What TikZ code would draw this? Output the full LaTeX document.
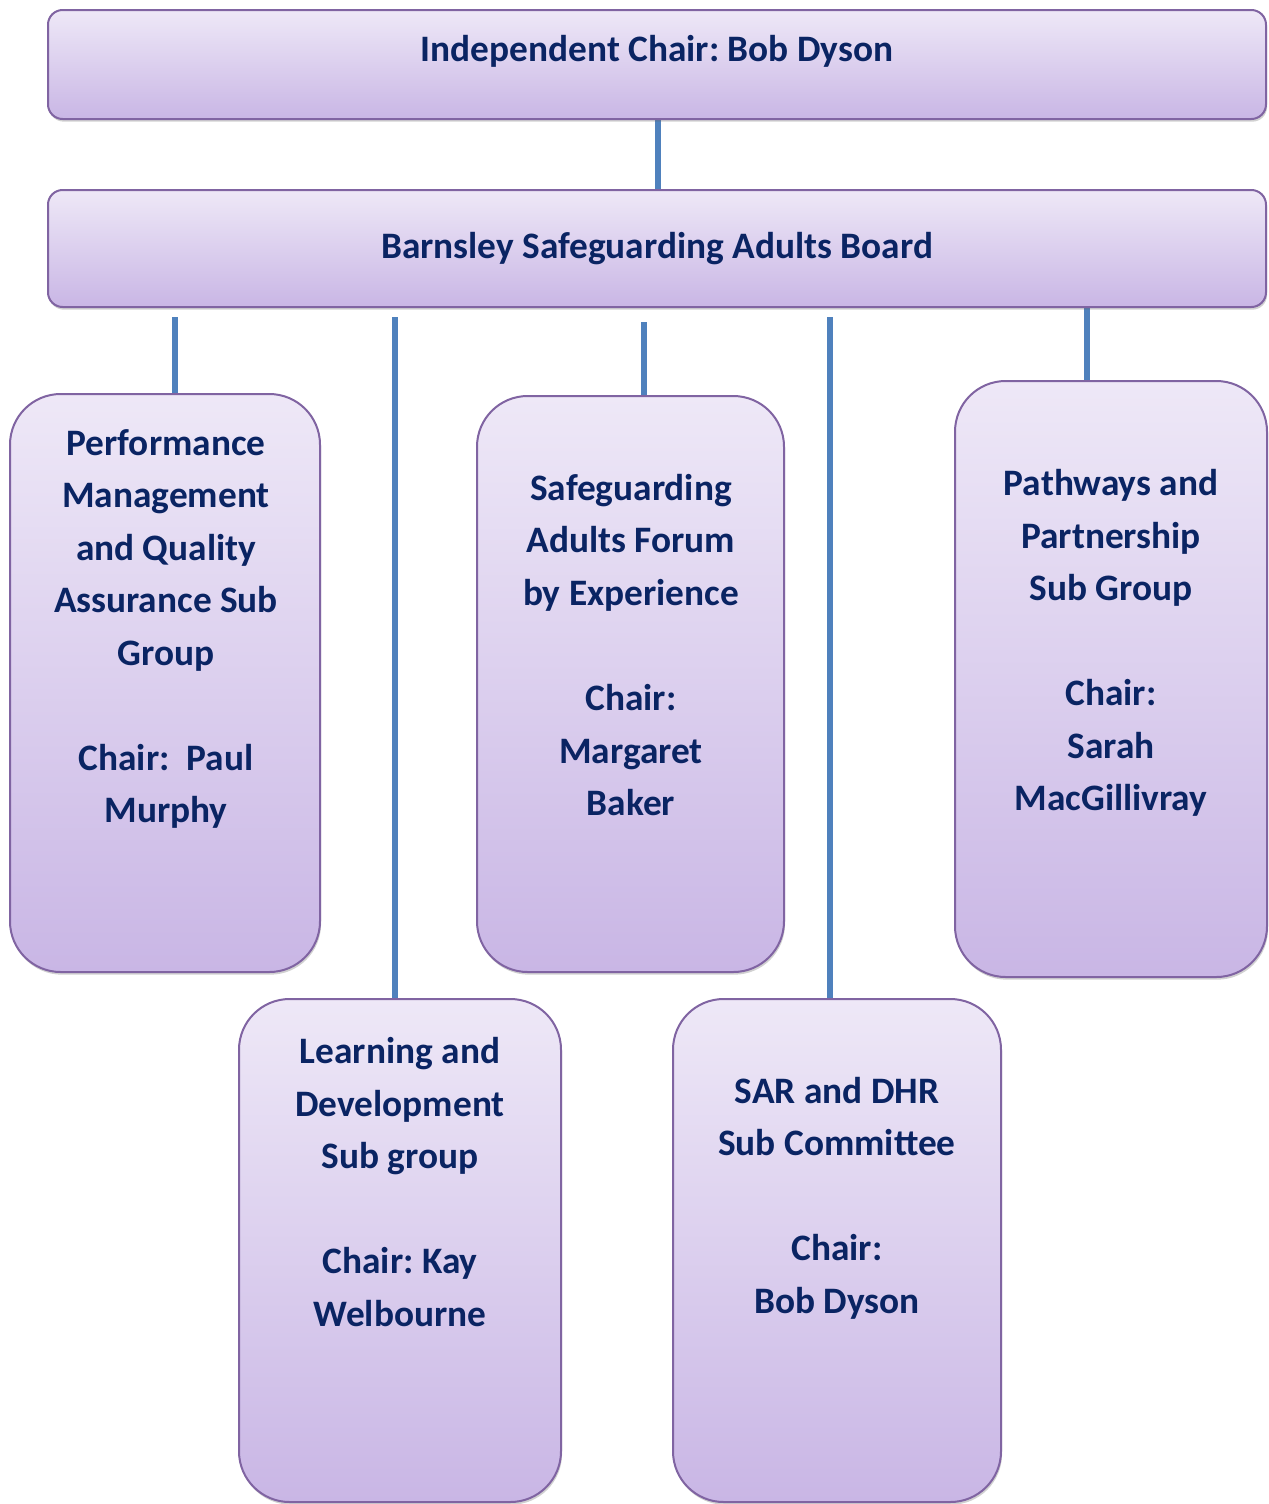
\documentclass[tikz,border=0pt]{standalone}
\usepackage{fontspec}
\setmainfont{Carlito}
\usetikzlibrary{shadows,fit,backgrounds}
\definecolor{txtnavy}{HTML}{0A2463}
\definecolor{boxtop}{HTML}{EEE8F7}
\definecolor{boxbot}{HTML}{C9B6E5}
\definecolor{boxedge}{HTML}{8064A2}
\definecolor{linkblue}{HTML}{4F81BD}
\frenchspacing
\begin{document}
\begin{tikzpicture}[x=0.75pt,y=-0.75pt,
  boxbase/.style={draw=boxedge, line width=1.5pt, top color=boxtop, bottom color=boxbot,
    inner sep=0pt, drop shadow={shadow xshift=0.8pt, shadow yshift=-2pt, opacity=0.3, fill=black!60}},
  wide/.style={boxbase, rounded corners=11pt},
  tall/.style={boxbase, rounded corners=38pt},
  label/.style={text=txtnavy, font=\fontsize{28}{39.4}\selectfont\bfseries, align=center, inner sep=0pt},
  conn/.style={draw=linkblue, line width=3.8pt}]
\useasboundingbox (0,0) rectangle (1269,1504);
% boxes
\node[wide, fit={(48,10)(1266,119)}] (top) {};
\node[wide, fit={(48,190)(1266,307)}] (board) {};
\node[tall, fit={(10,394)(320,972)}] (pm) {};
\node[tall, fit={(477,396)(784,972)}] (saf) {};
\node[tall, fit={(955,381)(1267,977)}] (pp) {};
\node[tall, fit={(239,999)(561,1502)}] (ld) {};
\node[tall, fit={(673,999)(1001,1502)}] (sar) {};
% texts
\node[label] (ttop) at (657,51) {Independent Chair: Bob Dyson};
\node[label] (tboard) at (657,249) {Barnsley Safeguarding Adults Board};
\node[label] (tpm) at (166,629) {Performance\\Management\\and Quality\\Assurance Sub\\Group\\[39.4pt]Chair:~ Paul\\Murphy};
\node[label] (tsaf) at (631,645) {Safeguarding\\Adults Forum\\by Experience\\[39.4pt]Chair:\\Margaret\\Baker};
\node[label] (tpp) at (1111,643) {Pathways and\\Partnership\\Sub Group\\[39.4pt]Chair:\\Sarah\\MacGillivray};
\node[label] (tld) at (400,1182) {Learning and\\Development\\Sub group\\[39.4pt]Chair: Kay\\Welbourne};
\node[label] (tsar) at (837,1198) {SAR and DHR\\Sub Committee\\[39.4pt]Chair:\\Bob Dyson};
% connector start points
\coordinate (c1) at (175,317);
\coordinate (c2) at (395,317);
\coordinate (c3) at (644,322);
\coordinate (c4) at (830,317);
\coordinate (c5) at (1087,307);
\begin{pgfonlayer}{background}
\draw[conn] (top.south -| 658,0) -- (board.north -| 658,0);
\draw[conn] (c1) -- (c1 |- pm.north);
\draw[conn] (c2) -- (c2 |- ld.north);
\draw[conn] (c3) -- (c3 |- saf.north);
\draw[conn] (c4) -- (c4 |- sar.north);
\draw[conn] (c5) -- (c5 |- pp.north);
\end{pgfonlayer}
\end{tikzpicture}
\end{document}
